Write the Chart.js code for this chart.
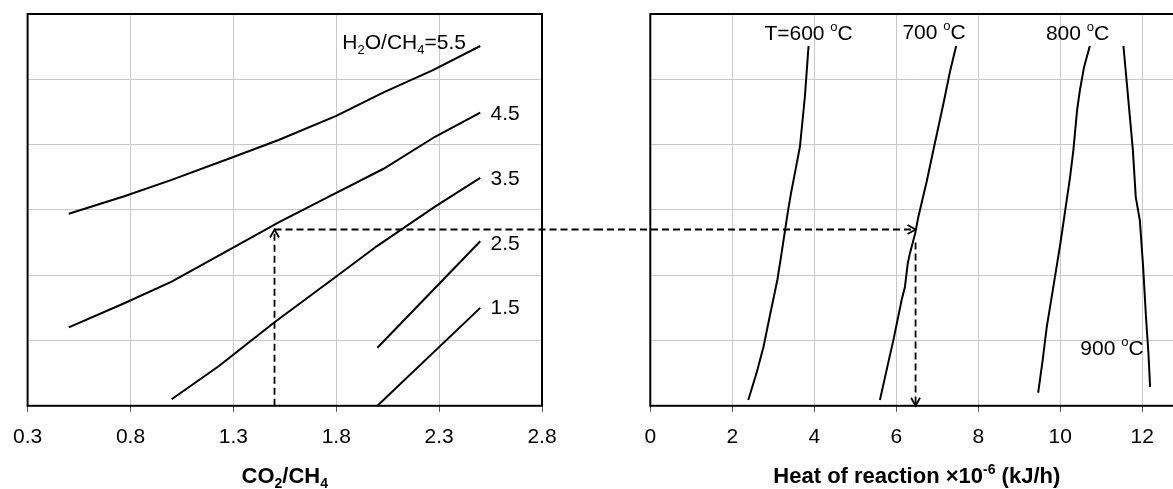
<!DOCTYPE html>
<html lang="en">
<head>
<meta charset="UTF-8">
<title>CO2/CH4 ratio and heat of reaction</title>
<script src="https://cdn.jsdelivr.net/npm/chart.js"></script>
<style>
  html, body { margin: 0; padding: 0; background: #fff; overflow: hidden; width: 1173px; height: 489px; }
  .panel { position: absolute; top: 0; height: 489px; }
  #leftPanel { left: 0; width: 596px; }
  #rightPanel { left: 596px; width: 600px; }
</style>
</head>
<body>
<div id="leftPanel" class="panel"><canvas id="ratioChart"></canvas></div>
<div id="rightPanel" class="panel"><canvas id="heatChart"></canvas></div>

<script>
// tick values
const ratioTicks = [0.3, 0.8, 1.3, 1.8, 2.3, 2.8];
const heatTicks = [0, 2, 4, 6, 8, 10, 12];
const levelTicks = [0, 1, 2, 3, 4, 5, 6];

// left panel: one curve per H2O/CH4 ratio (x = CO2/CH4)
const ratio55 = [0.5, 0.77, 1.0, 1.3, 1.52, 1.8, 2.03, 2.27, 2.5];
const level55 = [2.94, 3.21, 3.46, 3.81, 4.07, 4.44, 4.80, 5.14, 5.51];
const ratio45 = [0.5, 0.77, 1.0, 1.31, 1.52, 1.8, 2.03, 2.28, 2.5];
const level45 = [1.20, 1.57, 1.90, 2.44, 2.81, 3.26, 3.63, 4.12, 4.49];
const ratio35 = [1.0, 1.23, 1.5, 1.8, 2.0, 2.28, 2.5];
const level35 = [0.10, 0.61, 1.28, 1.98, 2.45, 3.05, 3.49];
const ratio25 = [2.0, 2.5];
const level25 = [0.89, 2.52];
const ratio15 = [2.0, 2.5];
const level15 = [0.0, 1.50];

// right panel: one curve per temperature (x = heat of reaction x1e-6 kJ/h)
const heat600 = [2.39, 2.60, 2.76, 2.92, 3.10, 3.20, 3.35, 3.43, 3.55, 3.65, 3.77, 3.86];
const level600 = [0.09, 0.52, 0.90, 1.39, 1.93, 2.33, 2.95, 3.25, 3.64, 3.97, 4.73, 5.51];
const heat700 = [5.60, 5.80, 5.93, 6.13, 6.21, 6.28, 6.33, 6.46, 6.54, 6.74, 6.94, 7.15, 7.31, 7.46];
const level700 = [0.09, 0.65, 1.01, 1.62, 1.82, 2.18, 2.33, 2.64, 2.90, 3.43, 4.02, 4.63, 5.12, 5.51];
const heat800 = [9.46, 9.57, 9.67, 9.83, 9.99, 10.11, 10.24, 10.32, 10.41, 10.48, 10.58, 10.72];
const level800 = [0.20, 0.70, 1.21, 1.82, 2.44, 2.95, 3.51, 3.92, 4.53, 4.84, 5.19, 5.51];
const heat900 = [11.54, 11.66, 11.77, 11.84, 11.94, 12.02, 12.09, 12.15, 12.19];
const level900 = [5.51, 4.68, 3.92, 3.20, 2.84, 2.13, 1.36, 0.80, 0.29];

// worked example read across both panels
const guideRatio = 1.5;
const guideLevel = 2.7;
const guideHeat = 6.47;
const guideDrop = 2.5;

// texts ('' = normal, 'sub' / 'sup' = small lowered / raised)
const ratioTitle = [['CO', ''], ['2', 'sub'], ['/CH', ''], ['4', 'sub']];
const heatTitle = [['Heat of reaction ', ''], ['\u00d7', ''], ['10', ''], ['-6', 'sup'], [' (kJ/h)', '']];
const ratioNotes = [
    { parts: [['H', ''], ['2', 'sub'], ['O/CH', ''], ['4', 'sub'], ['=5.5', '']], x: 2.13, y: 5.58, align: 'center' },
    { parts: [['4.5', '']], x: 2.55, y: 4.5, align: 'left' },
    { parts: [['3.5', '']], x: 2.55, y: 3.5, align: 'left' },
    { parts: [['2.5', '']], x: 2.55, y: 2.5, align: 'left' },
    { parts: [['1.5', '']], x: 2.55, y: 1.52, align: 'left' }
];
const heatNotes = [
    { parts: [['T=600 ', ''], ['o', 'sup'], ['C', '']], x: 3.86, y: 5.72, align: 'center' },
    { parts: [['700 ', ''], ['o', 'sup'], ['C', '']], x: 6.92, y: 5.74, align: 'center' },
    { parts: [['800 ', ''], ['o', 'sup'], ['C', '']], x: 10.42, y: 5.72, align: 'center' },
    { parts: [['900 ', ''], ['o', 'sup'], ['C', '']], x: 11.26, y: 0.90, align: 'center' }
];

const FAMILY = 'Arial, "Liberation Sans", sans-serif';
Chart.defaults.font.family = FAMILY;
Chart.defaults.color = '#000';

function zip(xs, ys) {
    return xs.map((x, i) => ({ x: x, y: ys[i] }));
}

function curve(xs, ys) {
    return { data: zip(xs, ys), borderColor: '#000', borderWidth: 2, pointRadius: 0, tension: 0, fill: false };
}

function drawRich(ctx, parts, x, y, size, bold, align) {
    const weight = bold ? 'bold ' : '';
    const fontFor = m => weight + (m ? Math.round(size * 0.62) : size) + 'px ' + FAMILY;
    let total = 0;
    parts.forEach(([t, m]) => { ctx.font = fontFor(m); total += ctx.measureText(t).width; });
    let cx = align === 'center' ? x - total / 2 : x;
    const base = y + size * 0.36;
    ctx.textAlign = 'left';
    ctx.textBaseline = 'alphabetic';
    ctx.fillStyle = '#000';
    parts.forEach(([t, m]) => {
        ctx.font = fontFor(m);
        const dy = m === 'sub' ? size * 0.25 : (m === 'sup' ? -size * 0.4 : 0);
        ctx.fillText(t, cx, base + dy);
        cx += ctx.measureText(t).width;
    });
}

function arrowHead(ctx, x, y, dir) {
    const L = 8, W = 4.5;
    ctx.beginPath();
    if (dir === 'up') { ctx.moveTo(x - W, y + L); ctx.lineTo(x, y); ctx.lineTo(x + W, y + L); }
    if (dir === 'down') { ctx.moveTo(x - W, y - L); ctx.lineTo(x, y); ctx.lineTo(x + W, y - L); }
    if (dir === 'right') { ctx.moveTo(x - L, y - W); ctx.lineTo(x, y); ctx.lineTo(x - L, y + W); }
    ctx.stroke();
}

function dashed(ctx, x1, y1, x2, y2) {
    ctx.save();
    ctx.setLineDash([7, 4]);
    ctx.beginPath();
    ctx.moveTo(x1, y1);
    ctx.lineTo(x2, y2);
    ctx.stroke();
    ctx.restore();
}

// frame, annotations, axis title and the dashed guide
function panelPlugin(notes, title, guide) {
    return {
        id: 'panelExtras',
        afterDatasetsDraw(chart) {
            const ctx = chart.ctx, a = chart.chartArea;
            const xs = chart.scales.x, ys = chart.scales.y;
            ctx.save();
            ctx.strokeStyle = '#000';
            ctx.lineWidth = 2;
            ctx.strokeRect(a.left, a.top, a.right - a.left, a.bottom - a.top);

            notes.forEach(n => drawRich(ctx, n.parts, xs.getPixelForValue(n.x), ys.getPixelForValue(n.y), 21, false, n.align));
            drawRich(ctx, title, (a.left + a.right) / 2, 475, 22, true, 'center');

            ctx.lineWidth = 1.8;
            guide(ctx, chart, xs, ys);
            ctx.restore();
        }
    };
}

function panelOptions(xMin, xMax, xTickList, padding) {
    return {
        responsive: true,
        maintainAspectRatio: false,
        animation: false,
        layout: { padding: padding },
        plugins: { legend: { display: false }, tooltip: { enabled: false } },
        scales: {
            x: {
                type: 'linear', min: xMin, max: xMax,
                afterBuildTicks: s => { s.ticks = xTickList.map(v => ({ value: v })); },
                grid: { color: '#c8c8c8', tickColor: '#555', tickLength: 6 },
                border: { display: false },
                ticks: { color: '#000', padding: 13, font: { size: 21 }, maxRotation: 0, autoSkip: false,
                         callback: v => String(v) }
            },
            y: {
                type: 'linear', min: 0, max: 6,
                afterBuildTicks: s => { s.ticks = levelTicks.map(v => ({ value: v })); },
                grid: { color: '#c8c8c8', drawTicks: false },
                border: { display: false },
                ticks: { display: false }
            }
        }
    };
}

new Chart(document.getElementById('ratioChart'), {
    type: 'line',
    data: {
        datasets: [
            curve(ratio55, level55),
            curve(ratio45, level45),
            curve(ratio35, level35),
            curve(ratio25, level25),
            curve(ratio15, level15)
        ]
    },
    options: panelOptions(0.3, 2.8, ratioTicks, { left: 21, right: 54, top: 14, bottom: 26 }),
    plugins: [panelPlugin(ratioNotes, ratioTitle, (ctx, chart, xs, ys) => {
        const px = xs.getPixelForValue(guideRatio);
        const py = ys.getPixelForValue(guideLevel);
        const p0 = ys.getPixelForValue(0);
        dashed(ctx, px, p0, px, py);
        dashed(ctx, px, py, chart.width, py);
        arrowHead(ctx, px, py, 'up');
    })]
});

new Chart(document.getElementById('heatChart'), {
    type: 'line',
    data: {
        datasets: [
            curve(heat600, level600),
            curve(heat700, level700),
            curve(heat800, level800),
            curve(heat900, level900)
        ]
    },
    options: panelOptions(0, 13, heatTicks, { left: 54.3, right: 12.7, top: 14, bottom: 26 }),
    plugins: [panelPlugin(heatNotes, heatTitle, (ctx, chart, xs, ys) => {
        const hx = xs.getPixelForValue(guideHeat);
        const py = ys.getPixelForValue(guideLevel);
        const pd = ys.getPixelForValue(guideDrop);
        const p0 = ys.getPixelForValue(0);
        dashed(ctx, 0, py, hx, py);
        arrowHead(ctx, hx, py, 'right');
        dashed(ctx, hx, pd, hx, p0);
        arrowHead(ctx, hx, p0, 'down');
    })]
});
</script>
</body>
</html>
